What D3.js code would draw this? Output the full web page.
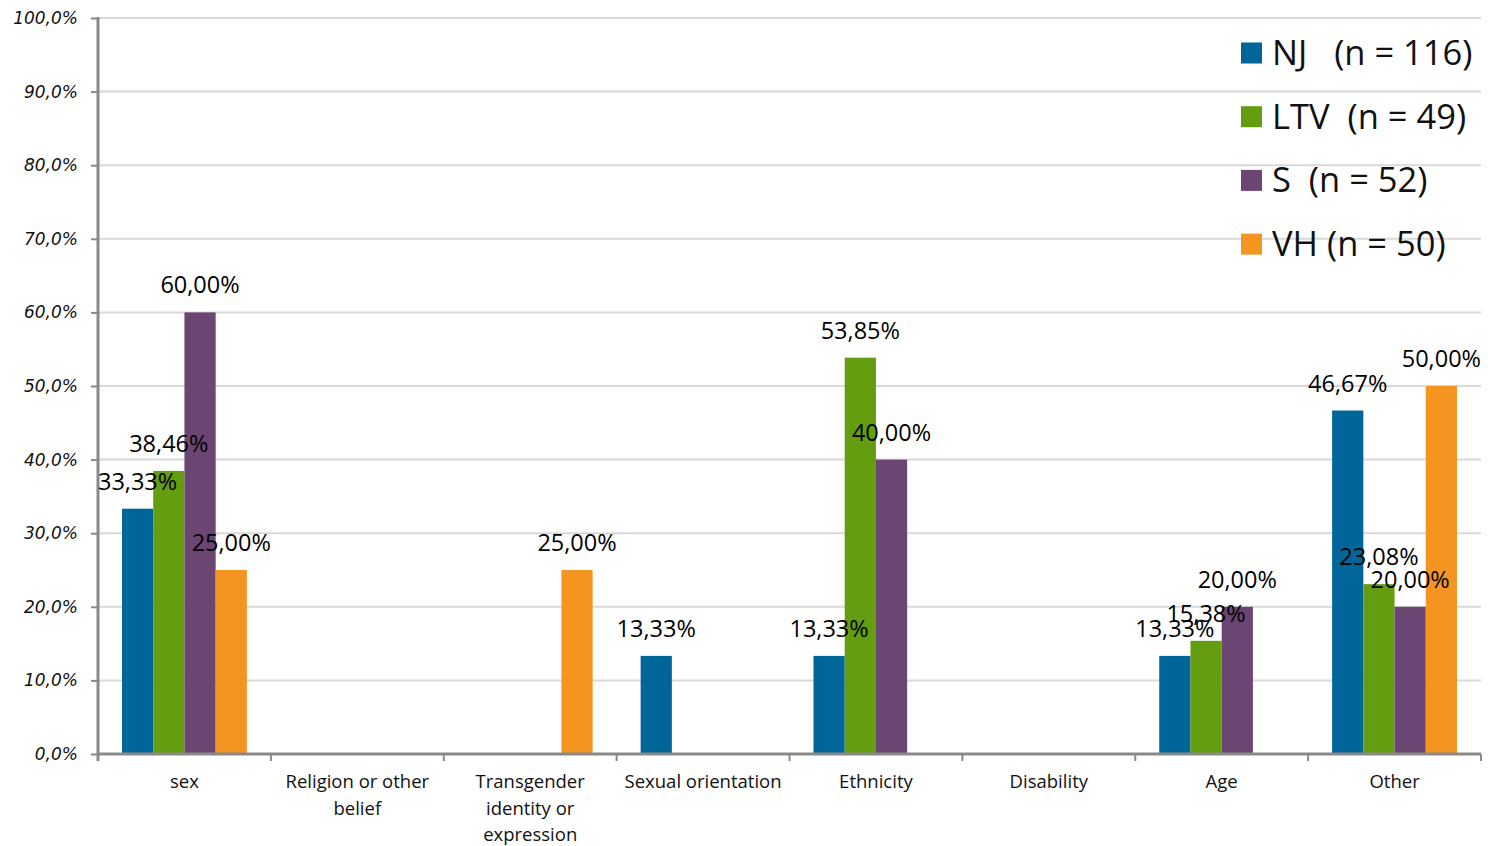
<!DOCTYPE html>
<html><head><meta charset="utf-8">
<script src="https://cdn.jsdelivr.net/npm/d3@7"></script>
<style>html,body{margin:0;padding:0;background:#fff;}</style>
</head><body><svg id="c" width="1488" height="846"></svg>
<script>
const categories = ["sex", "Religion or other belief", "Transgender identity or expression", "Sexual orientation", "Ethnicity", "Disability", "Age", "Other"];
const categoryLines = [["sex"], ["Religion or other", "belief"], ["Transgender", "identity or", "expression"], ["Sexual orientation"], ["Ethnicity"], ["Disability"], ["Age"], ["Other"]];
const seriesNames = ["NJ", "LTV", "S", "VH"];
const legendLabels = ["NJ   (n = 116)", "LTV  (n = 49)", "S  (n = 52)", "VH (n = 50)"];
const NJ  = [33.33, null, null, 13.33, 13.33, null, 13.33, 46.67];
const LTV = [38.46, null, null, null, 53.85, null, 15.38, 23.08];
const S   = [60.00, null, null, null, 40.00, null, 20.00, 20.00];
const VH  = [25.00, null, 25.00, null, null, null, null, 50.00];
const yTicks = [0, 10, 20, 30, 40, 50, 60, 70, 80, 90, 100];
const colors = ["#006599", "#649d0f", "#6b4672", "#f49421"];

const series = [NJ, LTV, S, VH];
const svg = d3.select("#c");
const pL = 98, pR = 1481, pT = 18, pB = 754;
const x = d3.scaleBand().domain(categories).range([pL, pR]).paddingInner(0).paddingOuter(0);
const bandPad = 24;
const xs = d3.scaleBand().domain(seriesNames).range([0, x.bandwidth() - 2 * bandPad]);
const y = d3.scaleLinear().domain([0, 100]).range([pB, pT]);
const fmtTick = v => d3.format(".1f")(v).replace(".", ",") + "%";
const fmtLab = v => d3.format(".2f")(v).replace(".", ",") + "%";

// gridlines
svg.append("g").selectAll("line").data(yTicks.filter(d => d > 0)).join("line")
  .attr("x1", pL).attr("x2", pR).attr("y1", d => y(d)).attr("y2", d => y(d))
  .attr("stroke", "#d9d9d9").attr("stroke-width", 2);

// bars
series.forEach((vals, si) => {
  svg.append("g").selectAll("rect").data(categories.map((c, i) => ({c, v: vals[i]})).filter(d => d.v != null)).join("rect")
    .attr("x", d => x(d.c) + bandPad + xs(seriesNames[si]))
    .attr("width", xs.bandwidth())
    .attr("y", d => y(d.v)).attr("height", d => y(0) - y(d.v))
    .attr("fill", colors[si]);
});

// y axis
const yAxis = d3.axisLeft(y).tickValues(yTicks).tickFormat(fmtTick).tickSize(7).tickPadding(13);
const gy = svg.append("g").attr("transform", `translate(${pL},0)`).call(yAxis);
gy.select(".domain").remove();
gy.selectAll(".tick line").attr("stroke", "#898989").attr("stroke-width", 2);
gy.selectAll(".tick text").attr("font-family", "DejaVu Sans").attr("font-style", "italic")
  .attr("font-size", 17).attr("fill", "#111");
svg.append("line").attr("x1", pL).attr("x2", pL).attr("y1", pT - 1).attr("y2", pB + 7)
  .attr("stroke", "#898989").attr("stroke-width", 3);

// x axis
const bounds = categories.map(c => x(c)).concat([pR]);
svg.append("line").attr("x1", pL).attr("x2", pR).attr("y1", pB).attr("y2", pB)
  .attr("stroke", "#898989").attr("stroke-width", 3);
svg.append("g").selectAll("line").data(bounds).join("line")
  .attr("x1", d => d).attr("x2", d => d).attr("y1", pB).attr("y2", pB + 7)
  .attr("stroke", "#898989").attr("stroke-width", 2);
const gx = svg.append("g");
categories.forEach((c, i) => {
  const t = gx.append("text").attr("x", x(c) + x.bandwidth() / 2).attr("y", 788)
    .attr("text-anchor", "middle").attr("font-family", "Open Sans").attr("font-size", 18.5).attr("fill", "#111");
  categoryLines[i].forEach((ln, li) => t.append("tspan").attr("x", x(c) + x.bandwidth() / 2).attr("dy", li === 0 ? 0 : 26.5).text(ln));
});

// data labels
series.forEach((vals, si) => {
  svg.append("g").selectAll("text").data(categories.map((c, i) => ({c, v: vals[i]})).filter(d => d.v != null)).join("text")
    .attr("x", d => x(d.c) + bandPad + xs(seriesNames[si]) + xs.bandwidth() / 2)
    .attr("y", d => y(d.v) - 19)
    .attr("text-anchor", "middle").attr("font-family", "Open Sans").attr("font-size", 23.5).attr("fill", "#000")
    .text(d => fmtLab(d.v));
});

// legend
const lg = svg.append("g");
legendLabels.forEach((l, i) => {
  const cy = 53 + i * 63.7;
  lg.append("rect").attr("x", 1241).attr("y", cy - 10.5).attr("width", 21).attr("height", 21).attr("fill", colors[i]);
  lg.append("text").attr("x", 1272).attr("y", cy + 12).attr("font-family", "Open Sans").attr("font-size", 34.5)
    .attr("fill", "#111").attr("xml:space", "preserve").style("white-space", "pre").text(l);
});
</script></body></html>
